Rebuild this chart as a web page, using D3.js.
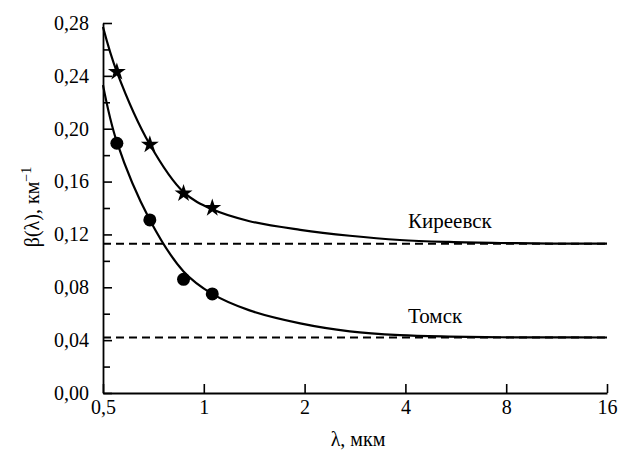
<!DOCTYPE html>
<html>
<head>
<meta charset="utf-8">
<script src="https://cdn.jsdelivr.net/npm/d3@7"></script>
</head>
<body style="margin:0; background:#fff">
<div id="chart"></div>
<script>
// wavelengths, mkm
var xTicks = [0.5, 1, 2, 4, 8, 16];
var xTickLabels = ["0,5", "1", "2", "4", "8", "16"];
var yTicks = [0, 0.04, 0.08, 0.12, 0.16, 0.20, 0.24, 0.28];
var yTickLabels = ["0,00", "0,04", "0,08", "0,12", "0,16", "0,20", "0,24", "0,28"];
var yMinorTicks = [0.02, 0.06, 0.10, 0.14, 0.18, 0.22, 0.26];

// measured points
var pointLambda = [0.55, 0.69, 0.87, 1.06];
var kireevskPoints = [0.243, 0.188, 0.151, 0.140];
var tomskPoints = [0.189, 0.131, 0.086, 0.075];

// fitted curves
var curveLambda = [0.5, 0.55, 0.69, 0.87, 1.06, 1.37, 1.94, 2.73, 3.85, 5.4, 7.7, 11, 16];
var kireevskCurve = [0.277, 0.243, 0.188, 0.152, 0.139, 0.130, 0.1235, 0.119, 0.1158, 0.1143, 0.1135, 0.1131, 0.113];
var tomskCurve = [0.233, 0.190, 0.131, 0.092, 0.075, 0.0625, 0.0527, 0.0467, 0.0438, 0.0427, 0.0422, 0.0421, 0.042];

// asymptotes
var kireevskLevel = 0.113;
var tomskLevel = 0.042;

var width = 622;
var height = 453;
var margin = {top: 23, right: 15, bottom: 60, left: 103};

var x = d3.scaleLog().base(2)
  .domain([0.5, 16])
  .range([margin.left, width - margin.right]);

var y = d3.scaleLinear()
  .domain([0, 0.28])
  .range([height - margin.bottom, margin.top]);

var svg = d3.select("#chart")
  .append("svg")
  .attr("width", width)
  .attr("height", height);

// y axis, minor ticks first
svg.append("g")
  .attr("transform", `translate(${margin.left},0)`)
  .call(d3.axisLeft(y).tickValues(yMinorTicks).tickSize(-7).tickFormat(""))
  .call(g => g.select(".domain").remove())
  .call(g => g.selectAll("line").attr("stroke-width", 1.6));

svg.append("g")
  .attr("transform", `translate(${margin.left},0)`)
  .call(d3.axisLeft(y).tickValues(yTicks).tickSize(-9).tickSizeOuter(0).tickPadding(14)
    .tickFormat((d, i) => yTickLabels[i]))
  .call(g => g.select(".domain").attr("stroke-width", 1.8))
  .call(g => g.selectAll("line").attr("stroke-width", 1.6))
  .call(g => g.selectAll("text").attr("font-size", 20));

// x axis
svg.append("g")
  .attr("transform", `translate(0,${height - margin.bottom})`)
  .call(d3.axisBottom(x).tickValues(xTicks).tickSize(-9).tickSizeOuter(0).tickPadding(7)
    .tickFormat((d, i) => xTickLabels[i]))
  .call(g => g.select(".domain").attr("stroke-width", 1.8))
  .call(g => g.selectAll("line").attr("stroke-width", 1.6))
  .call(g => g.selectAll("text").attr("font-size", 20));

// dashed asymptotes
[kireevskLevel, tomskLevel].forEach(function (v) {
  svg.append("line")
    .attr("x1", x(0.5))
    .attr("x2", x(16))
    .attr("y1", y(v))
    .attr("y2", y(v))
    .attr("stroke", "#000")
    .attr("stroke-width", 2)
    .attr("stroke-dasharray", "8,5");
});

var line = d3.line()
  .x(d => x(d[0]))
  .y(d => y(d[1]))
  .curve(d3.curveCatmullRom.alpha(0.5));

[kireevskCurve, tomskCurve].forEach(function (vals) {
  svg.append("path")
    .datum(curveLambda.map((l, i) => [l, vals[i]]))
    .attr("fill", "none")
    .attr("stroke", "#000")
    .attr("stroke-width", 2.2)
    .attr("d", line);
});

// markers
svg.selectAll(".star")
  .data(pointLambda.map((l, i) => [l, kireevskPoints[i]]))
  .enter().append("path")
  .attr("class", "star")
  .attr("transform", d => `translate(${x(d[0])},${y(d[1])})`)
  .attr("d", d3.symbol().type(d3.symbolStar).size(100));

svg.selectAll(".dot")
  .data(pointLambda.map((l, i) => [l, tomskPoints[i]]))
  .enter().append("circle")
  .attr("class", "dot")
  .attr("cx", d => x(d[0]))
  .attr("cy", d => y(d[1]))
  .attr("r", 6.5);

// labels
svg.append("text")
  .attr("x", 408)
  .attr("y", 228)
  .attr("font-size", 21)
  .text("Киреевск");

svg.append("text")
  .attr("x", 408)
  .attr("y", 323)
  .attr("font-size", 21)
  .text("Томск");

svg.append("text")
  .attr("x", 358)
  .attr("y", 446)
  .attr("text-anchor", "middle")
  .attr("font-size", 20)
  .text("λ, мкм");

var ylab = svg.append("text")
  .attr("transform", "translate(39,207) rotate(-90)")
  .attr("text-anchor", "middle")
  .attr("font-size", 20);
ylab.append("tspan").text("β(λ), км");
ylab.append("tspan").attr("font-size", 14).attr("dy", -8).text("−1");

svg.selectAll("text")
  .style("font-family", "Liberation Serif")
  .style("fill", "#000");
</script>
</body>
</html>
